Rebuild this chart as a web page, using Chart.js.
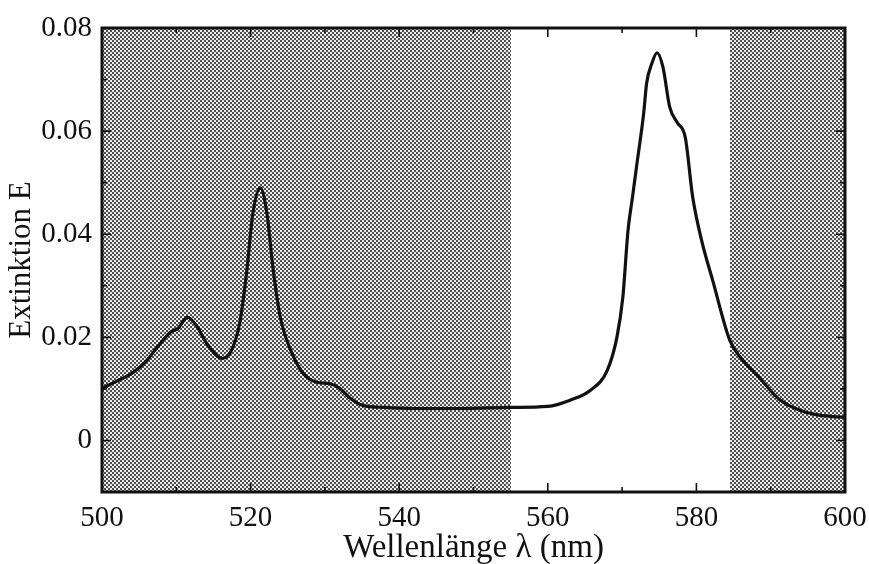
<!DOCTYPE html>
<html>
<head>
<meta charset="utf-8">
<script src="https://cdn.jsdelivr.net/npm/chart.js@4.4.1/dist/chart.umd.min.js"></script>
<style>
  body { margin: 0; background: #fff; }
  #wrap { width: 869px; height: 564px; }
</style>
</head>
<body>
<div id="wrap"><canvas id="spectrum" width="869" height="564"></canvas></div>
<script>
// Wellenlänge (nm) und Extinktion
const wavelength = [500, 502, 504.2, 506, 507.4, 509.2, 510.2, 511.5, 512.7, 514.1, 516.2, 517.6, 518.6, 519.5, 520.3, 521.3, 522.2, 523, 524, 525.7, 527.1, 528.9, 530.7, 532, 533.4, 535.1, 538, 542, 548, 555, 560, 563, 565.7, 568, 569.3, 570.1, 570.8, 571.4, 572, 572.9, 573.3, 574, 574.7, 575.5, 576.4, 577.4, 578.5, 579.5, 580.7, 582.2, 584.5, 586, 588.2, 591.3, 594.9, 597, 600];
const extinction = [0.0101, 0.0115, 0.0132, 0.0155, 0.018, 0.021, 0.0217, 0.0239, 0.0223, 0.0188, 0.0159, 0.018, 0.0233, 0.033, 0.044, 0.049, 0.044, 0.0336, 0.0239, 0.0165, 0.013, 0.0113, 0.011, 0.0101, 0.0082, 0.0068, 0.0064, 0.0062, 0.0062, 0.0064, 0.0066, 0.0078, 0.0097, 0.0136, 0.020, 0.0278, 0.0408, 0.0472, 0.0537, 0.0634, 0.0693, 0.0731, 0.0752, 0.0724, 0.0647, 0.0617, 0.0588, 0.0472, 0.0388, 0.031, 0.0194, 0.016, 0.0126, 0.0078, 0.0054, 0.0048, 0.0045];

// schattierte Bereiche (nm)
const shadedRanges = [[500, 555], [584.5, 600]];

const xTicks = [500, 510, 520, 530, 540, 550, 560, 570, 580, 590, 600];
const xLabels = [500, 520, 540, 560, 580, 600];
const yTicks = [-0.01, 0, 0.01, 0.02, 0.03, 0.04, 0.05, 0.06, 0.07, 0.08];
const yLabels = [0, 0.02, 0.04, 0.06, 0.08];

const points = [];
for (let i = 0; i < wavelength.length; i++) {
    points.push({ x: wavelength[i], y: extinction[i] });
}

// Rasterpunkte wie im Druck
function makePattern(ctx) {
    let c = document.createElement("canvas");
    c.width = 4;
    c.height = 4;
    let p = c.getContext("2d");
    p.fillStyle = "#ececec";
    p.fillRect(0, 0, 4, 4);
    p.fillStyle = "#505050";
    p.fillRect(0, 0, 2, 2);
    p.fillRect(2, 2, 2, 2);
    return ctx.createPattern(c, "repeat");
}

function isLabel(list, v) {
    return list.some(function (l) { return Math.abs(l - v) < 1e-9; });
}

const shadePlugin = {
    id: "shade",
    beforeDatasetsDraw: function (chart) {
        let ctx = chart.ctx;
        let area = chart.chartArea;
        let xs = chart.scales.x;
        ctx.save();
        ctx.fillStyle = makePattern(ctx);
        shadedRanges.forEach(function (r) {
            let x1 = Math.round(xs.getPixelForValue(r[0]));
            let x2 = Math.round(xs.getPixelForValue(r[1]));
            ctx.fillRect(x1, Math.round(area.top), x2 - x1, Math.round(area.bottom - area.top));
        });
        ctx.restore();
    }
};

// Rahmen und nach innen zeigende Striche
const framePlugin = {
    id: "frame",
    afterDraw: function (chart) {
        let ctx = chart.ctx;
        let a = chart.chartArea;
        let xs = chart.scales.x;
        let ys = chart.scales.y;
        ctx.save();
        ctx.strokeStyle = "#111";
        ctx.lineWidth = 1.6;
        xTicks.forEach(function (v) {
            let px = xs.getPixelForValue(v);
            let len = isLabel(xLabels, v) ? 9 : 5;
            ctx.beginPath();
            ctx.moveTo(px, a.bottom);
            ctx.lineTo(px, a.bottom - len);
            ctx.moveTo(px, a.top);
            ctx.lineTo(px, a.top + len);
            ctx.stroke();
        });
        yTicks.forEach(function (v) {
            let py = ys.getPixelForValue(v);
            let len = isLabel(yLabels, v) ? 9 : 5;
            ctx.beginPath();
            ctx.moveTo(a.left, py);
            ctx.lineTo(a.left + len, py);
            ctx.moveTo(a.right, py);
            ctx.lineTo(a.right - len, py);
            ctx.stroke();
        });
        ctx.lineWidth = 3;
        ctx.strokeRect(a.left, a.top, a.right - a.left, a.bottom - a.top);
        ctx.restore();
    }
};

const serif = "'Liberation Serif', 'DejaVu Serif', serif";

new Chart(document.getElementById("spectrum"), {
    type: "line",
    data: {
        datasets: [{
            data: points,
            borderColor: "#111",
            borderWidth: 3.2,
            pointRadius: 0,
            fill: false,
            cubicInterpolationMode: "monotone"
        }]
    },
    options: {
        responsive: false,
        animation: false,
        layout: { padding: { top: 28, right: 24, left: 0, bottom: 0 } },
        plugins: {
            legend: { display: false },
            tooltip: { enabled: false }
        },
        scales: {
            x: {
                type: "linear",
                min: 500,
                max: 600,
                border: { display: false },
                grid: { display: false, drawTicks: false },
                afterBuildTicks: function (scale) {
                    scale.ticks = xLabels.map(function (v) { return { value: v }; });
                },
                afterFit: function (scale) {
                    scale.height = 72;
                    scale.paddingLeft = 0;
                    scale.paddingRight = 0;
                },
                ticks: {
                    color: "#111",
                    padding: 9,
                    maxRotation: 0,
                    font: { family: serif, size: 29 }
                },
                title: {
                    display: true,
                    text: "Wellenlänge λ (nm)",
                    color: "#111",
                    padding: { top: 0, bottom: -4 },
                    font: { family: serif, size: 33 }
                }
            },
            y: {
                min: -0.01,
                max: 0.08,
                border: { display: false },
                grid: { display: false, drawTicks: false },
                afterBuildTicks: function (scale) {
                    scale.ticks = yLabels.map(function (v) { return { value: v }; });
                },
                afterFit: function (scale) {
                    scale.width = 102;
                    scale.paddingTop = 0;
                    scale.paddingBottom = 0;
                },
                ticks: {
                    color: "#111",
                    padding: 10,
                    font: { family: serif, size: 29 },
                    callback: function (v) {
                        if (Math.abs(v) < 1e-9) return "0";
                        return v.toFixed(2);
                    }
                },
                title: {
                    display: true,
                    text: "Extinktion E",
                    color: "#111",
                    padding: { top: 3, bottom: 0 },
                    font: { family: serif, size: 31 }
                }
            }
        }
    },
    plugins: [shadePlugin, framePlugin]
});
</script>
</body>
</html>
